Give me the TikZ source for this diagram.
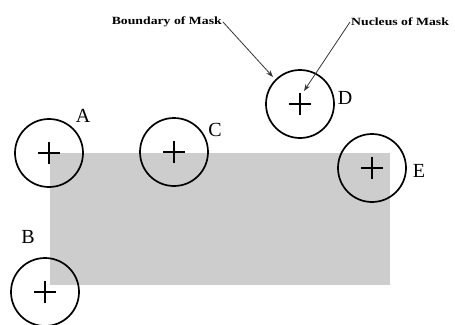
\documentclass[tikz,border=0pt]{standalone}
\usepackage{fontspec}
\setmainfont{Liberation Serif}
\usetikzlibrary{arrows.meta}
\definecolor{maskgray}{RGB}{205,205,205}
\begin{document}
\begin{tikzpicture}[x=1pt,y=-1pt,
  mask/.style={circle,draw=black,line width=1.7pt,minimum size=68pt,inner sep=0pt},
  lbl/.style={font=\fontsize{20}{20}\selectfont,inner sep=0pt},
  callout/.style={font=\bfseries\fontsize{11}{12}\selectfont,inner sep=1pt},
  pointer/.style={draw=black!80,line width=0.8pt,-{Stealth[length=7pt,width=5pt]}}]
\useasboundingbox (0,0) rectangle (455,324);
\fill[maskgray] (50,153) rectangle (390,285);
\foreach \n/\x/\y in {A/49/153,B/45/292,C/174/152,D/300/104,E/372/168}{
  \node[mask] (\n) at (\x,\y) {};
  \draw[line width=1.1pt] (\x-11,\y) -- (\x+11,\y) (\x,\y-11) -- (\x,\y+11);
}
\node[lbl] (lA) at (83,116) {A};
\node[lbl] (lB) at (28,237) {B};
\node[lbl] (lC) at (215,130) {C};
\node[lbl] (lD) at (345,98) {D};
\node[lbl] (lE) at (419,171) {E};
\node[callout,anchor=east] (tb) at (223,22) {\scalebox{1.25}[1]{Boundary of Mask}};
\node[callout,anchor=west] (tn) at (350,22) {\scalebox{1.25}[1]{Nucleus of Mask}};
\coordinate (bend) at (273,77);
\coordinate (nend) at (304,91);
\draw[pointer] (tb.east) -- (bend);
\draw[pointer] (tn.west) -- (nend);
\end{tikzpicture}
\end{document}
